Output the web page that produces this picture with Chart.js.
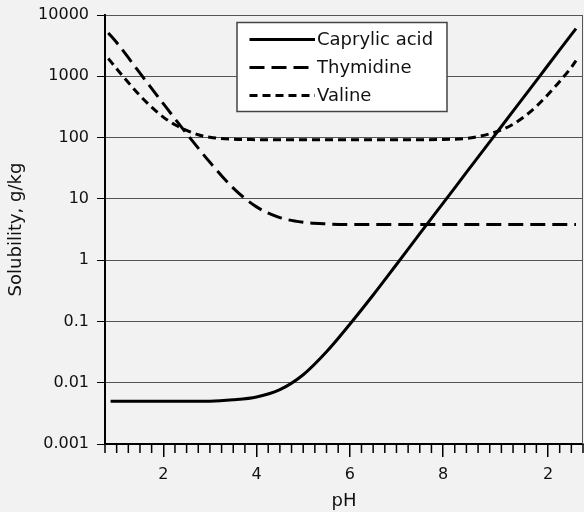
<!DOCTYPE html>
<html>
<head>
    <title>Solubility vs pH</title>
    <script src="https://cdn.jsdelivr.net/npm/chart.js"></script>
    <style>
        body { margin: 0; background: #f2f2f2; }
        #wrap { width: 584px; height: 512px; }
    </style>
</head>
<body>
    <div id="wrap"><canvas id="myChart"></canvas></div>
    <script>
        // solubility (g/kg) against pH for the three compounds
        const capPH = [0.87, 1, 2, 3, 3.5, 4, 4.5, 5, 5.5, 6, 6.5, 7, 7.5, 8, 8.5, 9, 9.5, 10, 10.5, 10.85];
        const capVal = [0.005, 0.005, 0.005, 0.005, 0.00525, 0.00585, 0.0077, 0.0135, 0.032, 0.09, 0.27, 0.85, 2.7, 8.5, 27, 85, 270, 850, 2700, 6000];

        const thyPH = [0.82, 1, 1.5, 2, 2.5, 3, 3.5, 4, 4.5, 5, 5.5, 6, 8, 10, 10.85];
        const thyVal = [5100, 3550, 1125, 358, 116, 39.5, 15.0, 7.4, 4.95, 4.15, 3.9, 3.83, 3.8, 3.8, 3.8];

        const valPH = [0.82, 1, 1.25, 1.5, 1.75, 2, 2.25, 2.5, 2.75, 3, 3.5, 4, 5, 6, 7, 8, 8.5, 8.75, 9, 9.25, 9.5, 9.75, 10, 10.25, 10.5, 10.75, 10.85];
        const valVal = [1950, 1330, 790, 485, 313, 216, 162, 131, 111, 101, 94, 92.5, 92, 92, 92, 93, 97, 104, 115, 133, 165, 222, 323, 505, 825, 1400, 1800];

        const seriesNames = ['Caprylic acid', 'Thymidine', 'Valine'];

        const yTicks = [0.001, 0.01, 0.1, 1, 10, 100, 1000, 10000];
        const yTickLabels = ['0.001', '0.01', '0.1', '1', '10', '100', '1000', '10000'];
        const xTicks = [2, 4, 6, 8, 10.25];
        const xTickLabels = ['2', '4', '6', '8', '2'];

        const FONT = '"DejaVu Sans", sans-serif';
        const toPoints = (xs, ys) => xs.map((x, i) => ({ x: x, y: ys[i] }));

        // short unlabeled ticks every quarter pH unit, plus the right frame edge
        const minorTicks = {
            id: 'minorTicks',
            afterDraw(chart) {
                const { ctx, chartArea } = chart;
                const xs = chart.scales.x;
                ctx.save();
                ctx.strokeStyle = '#000';
                ctx.lineWidth = 1.5;
                xs.ticks.forEach(t => {
                    if (xTicks.includes(t.value)) return;
                    const px = xs.getPixelForValue(t.value);
                    ctx.beginPath();
                    ctx.moveTo(px, chartArea.bottom);
                    ctx.lineTo(px, chartArea.bottom + 9);
                    ctx.stroke();
                });
                ctx.strokeStyle = '#555';
                ctx.lineWidth = 1;
                ctx.beginPath();
                ctx.moveTo(chartArea.right - 0.5, chartArea.top);
                ctx.lineTo(chartArea.right - 0.5, chartArea.bottom);
                ctx.stroke();
                ctx.restore();
            }
        };

        // boxed legend sitting inside the plot
        const boxLegend = {
            id: 'boxLegend',
            afterDatasetsDraw(chart) {
                const { ctx, chartArea } = chart;
                const left = chartArea.left + 132;
                const top = chartArea.top + 7.5;
                ctx.save();
                ctx.fillStyle = '#fff';
                ctx.fillRect(left, top, 210, 89);
                ctx.strokeStyle = '#444';
                ctx.lineWidth = 1.5;
                ctx.strokeRect(left, top, 210, 89);
                ctx.font = '18px ' + FONT;
                ctx.textBaseline = 'middle';
                chart.data.datasets.forEach((ds, i) => {
                    const y = top + 17 + i * 28;
                    ctx.beginPath();
                    ctx.setLineDash(ds.borderDash || []);
                    ctx.lineWidth = ds.borderWidth;
                    ctx.strokeStyle = ds.borderColor;
                    ctx.moveTo(left + 12.5, y);
                    ctx.lineTo(left + 78, y);
                    ctx.stroke();
                    ctx.setLineDash([]);
                    ctx.fillStyle = '#111';
                    ctx.fillText(ds.label, left + 80, y + 1);
                });
                ctx.restore();
            }
        };

        const line = (label, pts, dash) => ({
            label: label,
            data: pts,
            borderColor: '#000',
            borderWidth: 3,
            borderDash: dash,
            pointRadius: 0,
            fill: false,
            cubicInterpolationMode: 'monotone'
        });

        const ctx = document.getElementById('myChart').getContext('2d');
        const myChart = new Chart(ctx, {
            type: 'line',
            data: {
                datasets: [
                    line(seriesNames[0], toPoints(capPH, capVal), []),
                    line(seriesNames[1], toPoints(thyPH, thyVal), [15, 7]),
                    line(seriesNames[2], toPoints(valPH, valVal), [8, 5])
                ]
            },
            options: {
                responsive: true,
                maintainAspectRatio: false,
                animation: false,
                layout: { padding: { top: 15, right: 1, left: 0, bottom: 0 } },
                plugins: {
                    legend: { display: false },
                    tooltip: { enabled: false }
                },
                scales: {
                    x: {
                        type: 'linear',
                        min: 0.75,
                        max: 11,
                        afterBuildTicks: (scale) => {
                            const ticks = [];
                            for (let i = 0; i <= 41; i++) ticks.push({ value: 0.75 + i * 0.25 });
                            scale.ticks = ticks;
                        },
                        afterFit: (scale) => {
                            scale.height = 68;
                            scale.paddingLeft = 0;
                            scale.paddingRight = 0;
                        },
                        grid: {
                            drawOnChartArea: false,
                            tickLength: 13,
                            lineWidth: 1.5,
                            tickColor: (c) => xTicks.includes(c.tick.value) ? '#000' : 'rgba(0,0,0,0)'
                        },
                        border: { color: '#000', width: 2 },
                        ticks: {
                            autoSkip: false,
                            maxRotation: 0,
                            padding: 8,
                            color: '#111',
                            font: { family: FONT, size: 16 },
                            callback: (v) => {
                                const k = xTicks.indexOf(v);
                                return k >= 0 ? xTickLabels[k] : '';
                            }
                        },
                        title: {
                            display: true,
                            text: 'pH',
                            color: '#111',
                            font: { family: FONT, size: 18 },
                            padding: { top: 0, bottom: 0 }
                        }
                    },
                    y: {
                        type: 'logarithmic',
                        min: 0.001,
                        max: 10000,
                        afterBuildTicks: (scale) => {
                            scale.ticks = yTicks.map(v => ({ value: v }));
                        },
                        afterFit: (scale) => {
                            scale.width = 105;
                            scale.paddingTop = 0;
                            scale.paddingBottom = 0;
                        },
                        grid: {
                            color: '#555',
                            lineWidth: 1,
                            tickColor: '#000',
                            tickLength: 8
                        },
                        border: { color: '#000', width: 2 },
                        ticks: {
                            padding: 8,
                            color: '#111',
                            font: { family: FONT, size: 16 },
                            callback: (v) => {
                                const k = yTicks.indexOf(v);
                                return k >= 0 ? yTickLabels[k] : '';
                            }
                        },
                        title: {
                            display: true,
                            text: 'Solubility, g/kg',
                            color: '#111',
                            font: { family: FONT, size: 18 },
                            padding: { top: 6, bottom: 0 }
                        }
                    }
                }
            },
            plugins: [minorTicks, boxLegend]
        });
    </script>
</body>
</html>
